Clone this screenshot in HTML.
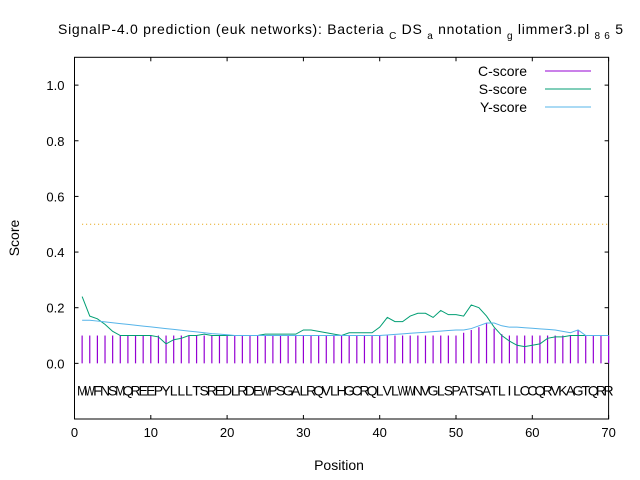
<!DOCTYPE html>
<html><head><meta charset="utf-8"><style>
body{margin:0;background:#fff;}
svg{display:block;font-family:"Liberation Sans",sans-serif;}
</style></head><body>
<svg id="chart" width="640" height="480" viewBox="0 0 640 480" xmlns="http://www.w3.org/2000/svg">
<text x="58" y="34" font-size="14" textLength="565" lengthAdjust="spacing">SignalP-4.0 prediction (euk networks): Bacteria <tspan font-size="10" dy="5">C</tspan><tspan dy="-5"> DS </tspan><tspan font-size="10" dy="5">a</tspan><tspan dy="-5"> nnotation </tspan><tspan font-size="10" dy="5">g</tspan><tspan dy="-5"> limmer3.pl </tspan><tspan font-size="10" dy="5">8 6</tspan><tspan dy="-5"> 5</tspan></text>
<g id="axes"></g>
<g id="marks"></g>
<text x="19" y="238" font-size="14" text-anchor="middle" transform="rotate(-90 19 238)">Score</text>
<text x="339" y="470" font-size="14" text-anchor="middle">Position</text>
<g font-size="14">
<text x="527" y="76" text-anchor="end">C-score</text>
<line x1="545" y1="71" x2="591" y2="71" stroke="#9400d3"/>
<text x="527" y="94" text-anchor="end">S-score</text>
<line x1="545" y1="89" x2="591" y2="89" stroke="#009e73"/>
<text x="527" y="112" text-anchor="end">Y-score</text>
<line x1="545" y1="107" x2="591" y2="107" stroke="#56b4e9"/>
</g>
</svg>
<script>
const sequence = "MWFNSMQREEPYLLLTSREDLRDEWPSGALRQVLHGCRQLVLWWNVGLSPATSATLILCCQRVKAGTQRR".split("");
const cScore = [0.10,0.10,0.10,0.10,0.10,0.10,0.10,0.10,0.10,0.10,0.10,0.10,0.10,0.10,0.10,0.10,0.10,0.10,0.10,0.10,0.10,0.10,0.10,0.10,0.10,0.10,0.10,0.10,0.10,0.10,0.10,0.10,0.10,0.10,0.10,0.10,0.10,0.10,0.10,0.10,0.10,0.10,0.10,0.10,0.10,0.10,0.10,0.10,0.10,0.10,0.11,0.12,0.13,0.145,0.125,0.105,0.10,0.10,0.10,0.10,0.10,0.10,0.10,0.10,0.10,0.12,0.10,0.10,0.10,0.10];
const sScore = [0.24,0.17,0.16,0.14,0.115,0.10,0.10,0.10,0.10,0.10,0.095,0.07,0.085,0.09,0.10,0.10,0.105,0.10,0.10,0.10,0.10,0.10,0.10,0.10,0.105,0.105,0.105,0.105,0.105,0.12,0.12,0.115,0.11,0.105,0.10,0.11,0.11,0.11,0.11,0.13,0.165,0.15,0.15,0.17,0.18,0.18,0.165,0.19,0.175,0.175,0.17,0.21,0.20,0.17,0.13,0.10,0.08,0.065,0.06,0.065,0.07,0.09,0.095,0.095,0.10,0.10,0.10,0.10,0.10,0.10];
const yScore = [0.155,0.155,0.152,0.149,0.146,0.143,0.140,0.137,0.134,0.131,0.128,0.125,0.122,0.119,0.116,0.113,0.110,0.107,0.105,0.103,0.10,0.10,0.10,0.10,0.10,0.10,0.10,0.10,0.10,0.10,0.10,0.10,0.10,0.10,0.10,0.10,0.10,0.10,0.10,0.10,0.102,0.104,0.106,0.108,0.11,0.112,0.114,0.116,0.118,0.12,0.12,0.125,0.135,0.145,0.145,0.135,0.13,0.13,0.128,0.126,0.124,0.122,0.12,0.115,0.11,0.12,0.10,0.10,0.10,0.10];
const xTicks = [0,10,20,30,40,50,60,70];
const yTicks = [0.0,0.2,0.4,0.6,0.8,1.0];
const threshold = 0.5;

const L=74.5,R=608.6,T=57.3,B=419;
const X=v=>L+(v-0)/70*(R-L);
const Y=v=>B-(v+0.2)/1.3*(B-T);
const NS="http://www.w3.org/2000/svg";
function mk(tag,attrs,parent,text){const e=document.createElementNS(NS,tag);for(const k in attrs)e.setAttribute(k,attrs[k]);if(text!==undefined)e.textContent=text;parent.appendChild(e);return e;}
const axes=document.getElementById('axes'),marks=document.getElementById('marks');
const frame=mk('rect',{x:L,y:T,width:R-L,height:B-T,fill:'none',stroke:'#000'},axes);


xTicks.forEach(t=>{
  mk('line',{x1:X(t),x2:X(t),y1:B,y2:B-4,stroke:'#000'},axes);
  mk('line',{x1:X(t),x2:X(t),y1:T,y2:T+4,stroke:'#000'},axes);
  const tx=mk('text',{x:X(t),y:B+18,'font-size':13,'text-anchor':'middle'},axes,String(t));
  
  
});
yTicks.forEach(t=>{
  mk('line',{x1:L,x2:L+4,y1:Y(t),y2:Y(t),stroke:'#000'},axes);
  mk('line',{x1:R,x2:R-4,y1:Y(t),y2:Y(t),stroke:'#000'},axes);
  const tx=mk('text',{x:L-10,y:Y(t)+5,'font-size':13,'text-anchor':'end'},axes,t.toFixed(1));
  
  
});
const th=mk('line',{x1:X(1),x2:X(70),y1:Y(threshold),y2:Y(threshold),stroke:'#e69f00','stroke-dasharray':'1,3'},marks);


sequence.forEach((c,i)=>{
  const b=mk('line',{x1:X(i+1),x2:X(i+1),y1:Y(0),y2:Y(cScore[i]),stroke:'#9400d3','stroke-width':1.2},marks);
  
  
  const a={x:X(i+1),y:Y(0)+32,'font-size':14,'text-anchor':'middle'};
  if(c==='M'||c==='W'){a.textLength=10;a.lengthAdjust='spacingAndGlyphs';}
  const t=mk('text',a,marks,c);
  
  
});
function line(arr,color,name){
  const p=mk('polyline',{points:arr.map((v,i)=>X(i+1)+','+Y(v)).join(' '),fill:'none',stroke:color,'stroke-width':1},marks);
  
  
}
line(sScore,'#009e73','s-score-line');
line(yScore,'#56b4e9','y-score-line');
</script>
</body></html>
